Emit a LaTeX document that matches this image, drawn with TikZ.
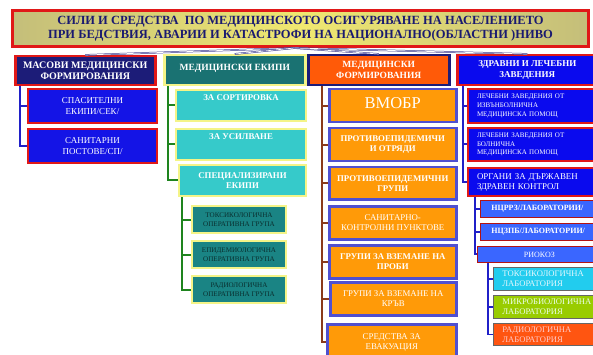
\documentclass[tikz,border=0pt]{standalone}
\usepackage{fontspec}
\setmainfont{Liberation Serif}
\definecolor{navy}{HTML}{1C1C78}
\definecolor{tred}{HTML}{E01818}
\definecolor{tyel}{HTML}{F0E870}
\definecolor{tolive}{HTML}{C4BE7A}
\definecolor{ttext}{HTML}{1A1A70}
\definecolor{blue1}{HTML}{1414E6}
\definecolor{teal1}{HTML}{1A7272}
\definecolor{teal2}{HTML}{1A8484}
\definecolor{cyan1}{HTML}{36CACA}
\definecolor{yelb}{HTML}{F4F488}
\definecolor{orng1}{HTML}{FF5A08}
\definecolor{orng2}{HTML}{FF9A08}
\definecolor{purb}{HTML}{5050D0}
\definecolor{blue2}{HTML}{0A0AEE}
\definecolor{blue3}{HTML}{3A66FF}
\definecolor{labc}{HTML}{22CCEE}
\definecolor{labg}{HTML}{99CC00}
\definecolor{labo}{HTML}{FF5511}
\definecolor{brown1}{HTML}{8B3A1A}
\definecolor{green1}{HTML}{1E841E}
\definecolor{lineb}{HTML}{2020C8}
\definecolor{fanc}{HTML}{34348C}
\tikzset{
  bx/.style={draw, rectangle, inner sep=1pt, anchor=north west, align=center, text=white},
  hdr/.style={bx, line width=2.5pt, font=\fontsize{9.5}{11}\selectfont\bfseries},
  c1box/.style={bx, fill=blue1, draw=tred, line width=2pt, font=\fontsize{9}{11}\selectfont},
  c2box/.style={bx, fill=cyan1, draw=yelb, line width=2pt, font=\fontsize{8.8}{10.5}\selectfont\bfseries},
  c2sub/.style={bx, fill=teal2, draw=yelb, line width=2pt, text=teal1!40!black, font=\fontsize{7.1}{9}\selectfont},
  c3box/.style={bx, fill=orng2, draw=purb, line width=2.5pt, font=\fontsize{8.8}{10}\selectfont},
  c3bold/.style={c3box, font=\fontsize{8.8}{10}\selectfont\bfseries},
  c4box/.style={bx, fill=blue2, draw=tred, line width=2pt, align=left, text width=112pt, font=\fontsize{7}{8.8}\selectfont},
  nbox/.style={bx, fill=blue3, draw=tred!80!black, line width=0.8pt, font=\fontsize{8}{9}\selectfont\bfseries},
  labbox/.style={bx, draw=black!60, line width=0.8pt, align=left, text width=88pt, minimum width=106pt, font=\fontsize{8.6}{10.2}\selectfont},
  tree/.style={line width=2pt},
  fan/.style={draw=fanc, line width=0.5pt, double=white, double distance=0.7pt},
}
\begin{document}
\begin{tikzpicture}[x=1pt,y=-1pt]
\useasboundingbox (0,0) rectangle (593,355);
\clip (0,0) rectangle (593,355);
\fill[white] (0,0) rectangle (593,355);
% title
\node[bx, left color=tolive, right color=tolive, middle color=tyel, draw=tred, line width=3pt,
      text=ttext, font=\fontsize{12.5}{13.5}\selectfont\bfseries,
      minimum width=576pt, minimum height=36pt] (t) at (11,9)
  {СИЛИ И СРЕДСТВА \ ПО МЕДИЦИНСКОТО ОСИГУРЯВАНЕ НА НАСЕЛЕНИЕТО\\ПРИ БЕДСТВИЯ, АВАРИИ И КАТАСТРОФИ НА НАЦИОНАЛНО(ОБЛАСТНИ )НИВО};
% headers
\node[hdr, fill=navy, draw=tred, minimum width=140pt, minimum height=29pt, font=\fontsize{10}{11}\selectfont\bfseries] (h1) at (14,55) {МАСОВИ МЕДИЦИНСКИ\\ФОРМИРОВАНИЯ};
\node[hdr, fill=teal1, draw=yelb, minimum width=141pt, minimum height=30pt, text depth=6pt] (h2) at (163,54) {МЕДИЦИНСКИ ЕКИПИ};
\node[hdr, fill=orng1, draw=navy, minimum width=141pt, minimum height=30pt] (h3) at (307,54) {МЕДИЦИНСКИ\\ФОРМИРОВАНИЯ};
\node[hdr, fill=blue2, draw=tred, minimum width=140pt, minimum height=30pt, font=\fontsize{9}{11}\selectfont\bfseries] (h4) at (456,54) {ЗДРАВНИ И ЛЕЧЕБНИ\\ЗАВЕДЕНИЯ};
% fan connectors
\coordinate (tc) at ([xshift=-6pt]t.south);
\draw[fan] (tc) -- (h1.north);
\draw[fan] (tc) -- (h2.north);
\draw[fan] (tc) -- (h3.north);
\draw[fan] (tc) -- (h4.north);
% column 1
\node[c1box, minimum width=129pt, minimum height=34pt] (a1) at (27,88) {СПАСИТЕЛНИ\\ЕКИПИ/СЕК/};
\node[c1box, minimum width=129pt, minimum height=34pt] (a2) at (27,128) {САНИТАРНИ\\ПОСТОВЕ/СП/};
\draw[tree, lineb] ([xshift=6pt]h1.south west) |- (a1.west);
\draw[tree, lineb] ([xshift=6pt]h1.south west) |- (a2.west);
% column 2
\node[c2box, minimum width=130pt, minimum height=31pt, text depth=16pt] (b1) at (175,89) {ЗА СОРТИРОВКА};
\node[c2box, minimum width=130pt, minimum height=31pt, text depth=16pt] (b2) at (175,128) {ЗА УСИЛВАНЕ};
\node[c2box, minimum width=127pt, minimum height=31pt] (b3) at (178,164) {СПЕЦИАЛИЗИРАНИ\\ЕКИПИ};
\draw[tree, green1] ([xshift=5pt]h2.south west) |- (b1.west);
\draw[tree, green1] ([xshift=5pt]h2.south west) |- (b2.west);
\draw[tree, green1] ([xshift=5pt]h2.south west) |- (b3.west);
\node[c2sub, minimum width=94pt, minimum height=27pt] (g1) at (191,205) {ТОКСИКОЛОГИЧНА\\ОПЕРАТИВНА ГРУПА};
\node[c2sub, minimum width=94pt, minimum height=27pt] (g2) at (191,240) {ЕПИДЕМИОЛОГИЧНА\\ОПЕРАТИВНА ГРУПА};
\node[c2sub, minimum width=94pt, minimum height=27pt] (g3) at (191,275) {РАДИОЛОГИЧНА\\ОПЕРАТИВНА ГРУПА};
\draw[tree, green1] ([xshift=4pt]b3.south west) |- (g1.west);
\draw[tree, green1] ([xshift=4pt]b3.south west) |- (g2.west);
\draw[tree, green1] ([xshift=4pt]b3.south west) |- (g3.west);
% column 3
\node[c3box, minimum width=127pt, minimum height=33pt, font=\fontsize{16.5}{17}\selectfont, text depth=5pt] (c1) at (328,88) {ВМОБР};
\node[c3bold, minimum width=127pt, minimum height=33pt] (c2) at (328,127) {ПРОТИВОЕПИДЕМИЧИ\\И ОТРЯДИ};
\node[c3bold, minimum width=127pt, minimum height=32pt] (c3) at (328,166) {ПРОТИВОЕПИДЕМИЧНИ\\ГРУПИ};
\node[c3box, minimum width=127pt, minimum height=33pt] (c4) at (328,205) {САНИТАРНО-\\КОНТРОЛНИ ПУНКТОВЕ};
\node[c3bold, minimum width=127pt, minimum height=33pt] (c5) at (328,244) {ГРУПИ ЗА ВЗЕМАНЕ НА\\ПРОБИ};
\node[c3box, minimum width=126pt, minimum height=33pt] (c6) at (329,281) {ГРУПИ ЗА ВЗЕМАНЕ НА\\КРЪВ};
\node[c3box, minimum width=129pt, minimum height=36pt] (c7) at (326,323) {СРЕДСТВА ЗА\\ЕВАКУАЦИЯ};
\foreach \n in {c1,c2,c3,c4,c5,c6,c7}
  \draw[tree, brown1] ([xshift=15pt]h3.south west) |- (\n.west);
% column 4
\node[c4box, minimum width=130pt, minimum height=34pt] (d1) at (467,88) {ЛЕЧЕБНИ ЗАВЕДЕНИЯ ОТ\\ИЗВЪНБОЛНИЧНА\\МЕДИЦИНСКА ПОМОЩ};
\node[c4box, minimum width=130pt, minimum height=33pt] (d2) at (467,127) {ЛЕЧЕБНИ ЗАВЕДЕНИЯ ОТ\\БОЛНИЧНА\\МЕДИЦИНСКА ПОМОЩ};
\node[c4box, minimum width=130pt, minimum height=28pt, font=\fontsize{8.9}{10}\selectfont] (d3) at (467,167) {ОРГАНИ ЗА ДЪРЖАВЕН\\ЗДРАВЕН КОНТРОЛ};
\foreach \n in {d1,d2,d3}
  \draw[tree, lineb] ([xshift=7pt]h4.south west) |- (\n.west);
\node[nbox, minimum width=124pt, minimum height=17pt, text width=102pt, align=left] (e1) at (480,200) {НЦРРЗ/ЛАБОРАТОРИИ/};
\node[nbox, minimum width=124pt, minimum height=17pt, text width=102pt, align=left] (e2) at (480,223) {НЦЗПБ/ЛАБОРАТОРИИ/};
\node[nbox, minimum width=124pt, minimum height=16pt, font=\fontsize{8}{9}\selectfont] (e3) at (477,246) {РИОКОЗ};
\foreach \n in {e1,e2,e3}
  \draw[tree, lineb] ([xshift=8pt]d3.south west) |- (\n.west);
\node[labbox, fill=labc, minimum height=23pt, text=white!90!cyan] (l1) at (493,267) {ТОКСИКОЛОГИЧНА\\ЛАБОРАТОРИЯ};
\node[labbox, fill=labg, minimum height=23pt, text=white!92!green] (l2) at (493,295) {МИКРОБИОЛОГИЧНА\\ЛАБОРАТОРИЯ};
\node[labbox, fill=labo, minimum height=22pt, text=pink!80!white] (l3) at (493,323) {РАДИОЛОГИЧНА\\ЛАБОРАТОРИЯ};
\foreach \n in {l1,l2,l3}
  \draw[tree, lineb, line width=1.2pt] ([xshift=11pt]e3.south west) |- (\n.west);
\end{tikzpicture}
\end{document}
